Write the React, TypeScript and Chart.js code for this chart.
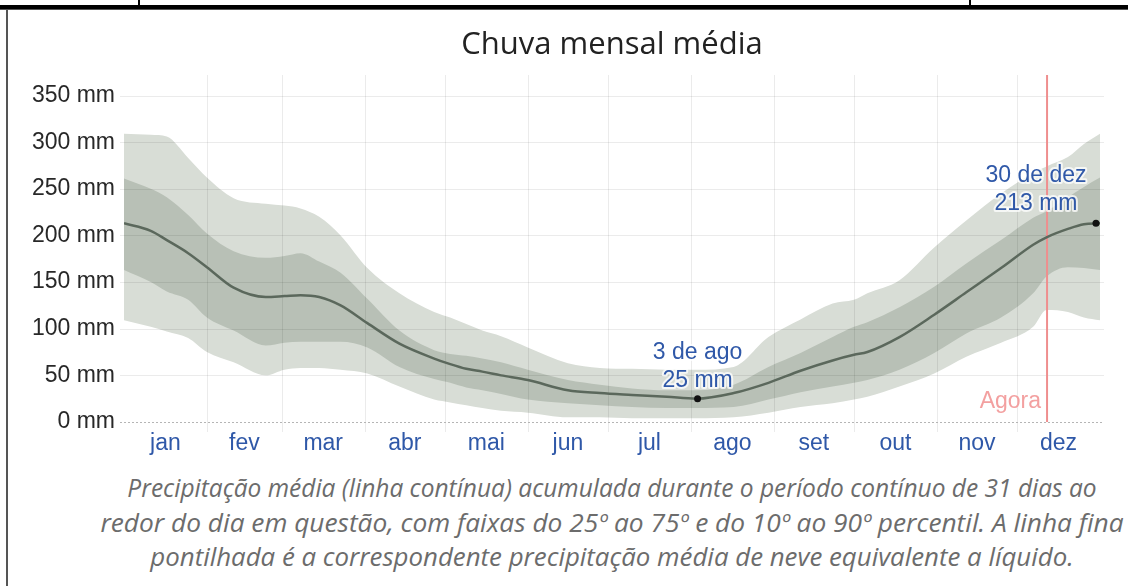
import React, { useEffect, useRef } from 'react';
import { Chart, registerables } from 'chart.js';

Chart.register(...registerables);

const chartTitle = 'Chuva mensal média';

// day of year (0 = 1 jan, 365 = 31 dez end)
const days = [0, 10, 16, 24, 31, 41, 53, 60, 66, 73, 81, 91, 103, 116, 122, 128, 134, 141, 151, 166, 178, 190, 203, 214, 228, 241, 253, 265, 273, 278, 290, 303, 315, 328, 340, 345, 353, 359, 365];
const meanMm = [213, 205, 195, 181, 166, 144, 134, 135, 136, 134, 125, 106, 84, 68, 62, 57, 54, 50, 45, 34, 31, 29, 27, 25, 31, 42, 55, 66, 72, 75, 91, 115, 139, 165, 190, 198, 207, 212, 213];
const p75Mm = [261, 250, 241, 222, 202, 183, 176, 178, 181, 172, 160, 132, 98, 77, 73, 71, 68, 64, 56, 45, 40, 36, 34, 34, 40, 59, 74, 91, 102, 107, 123, 145, 170, 195, 219, 226, 241, 252, 262];
const p25Mm = [163, 150, 140, 131, 112, 98, 82, 85, 86, 86, 86, 80, 59, 46, 42, 37, 34, 30, 24, 20, 18, 16, 15, 15, 16, 24, 32, 38, 42, 45, 56, 74, 95, 112, 138, 156, 166, 165, 163];
const p90Mm = [309, 308, 306, 283, 262, 240, 234, 232, 229, 220, 200, 165, 138, 118, 112, 105, 98, 92, 80, 63, 58, 57, 56, 56, 59, 91, 110, 127, 131, 138, 152, 187, 216, 245, 267, 274, 284, 298, 309];
const p10Mm = [109, 102, 97, 90, 75, 64, 50, 56, 58, 58, 56, 52, 38, 24, 21, 18, 15, 12, 10, 5, 5, 4, 4, 4, 5, 10, 16, 20, 24, 27, 38, 52, 70, 85, 102, 120, 118, 112, 109];

const monthLabels = ['jan', 'fev', 'mar', 'abr', 'mai', 'jun', 'jul', 'ago', 'set', 'out', 'nov', 'dez'];
const monthStarts = [0, 31, 59, 90, 120, 151, 181, 212, 243, 273, 304, 334, 365];
const yTicks = [0, 50, 100, 150, 200, 250, 300, 350];
const yMax = 372;

const highlightDays = [214.5, 363.5];
const highlightValues = [25, 213];
const highlightLabels = [['3 de ago', '25 mm'], ['30 de dez', '213 mm']];

const nowDay = 345.2;
const nowLabel = 'Agora';

const captionLines = [
  'Precipitação média (linha contínua) acumulada durante o período contínuo de 31 dias ao',
  'redor do dia em questão, com faixas do 25º ao 75º e do 10º ao 90º percentil. A linha fina',
  'pontilhada é a correspondente precipitação média de neve equivalente a líquido.',
];
const captionWidths = [969, 1023, 923];

const BLUE = '#2f58a8';
const FONT = '"Liberation Sans", Arial, sans-serif';

const pts = (vals: number[]) => days.map((d, i) => ({ x: d, y: vals[i] }));

const overlayPlugin = {
  id: 'overlay',
  afterDatasetDraw(chart: any, args: any) {
    if (args.index !== 1) return;
    const { ctx, chartArea, scales } = chart;
    const x = scales.x;
    const y = scales.y;
    const top = y.getPixelForValue(yMax);
    ctx.save();
    ctx.lineWidth = 1;
    ctx.strokeStyle = 'rgba(0,0,0,0.08)';
    for (const t of yTicks) {
      if (t === 0) continue;
      const py = Math.round(y.getPixelForValue(t)) + 0.5;
      ctx.beginPath();
      ctx.moveTo(chartArea.left - 4, py);
      ctx.lineTo(chartArea.right + 4, py);
      ctx.stroke();
    }
    for (const d of monthStarts.slice(1, -1)) {
      const px = Math.round(x.getPixelForValue(d)) + 0.5;
      ctx.beginPath();
      ctx.moveTo(px, top);
      ctx.lineTo(px, chartArea.bottom + 10);
      ctx.stroke();
    }
    const zy = Math.round(y.getPixelForValue(0)) + 0.5;
    ctx.setLineDash([2, 2]);
    ctx.strokeStyle = '#b5b5b5';
    ctx.beginPath();
    ctx.moveTo(chartArea.left - 4, zy);
    ctx.lineTo(chartArea.right + 4, zy);
    ctx.stroke();
    ctx.setLineDash([]);
    const nx = x.getPixelForValue(nowDay);
    ctx.strokeStyle = '#ef8e8e';
    ctx.lineWidth = 2;
    ctx.beginPath();
    ctx.moveTo(nx, top);
    ctx.lineTo(nx, chartArea.bottom);
    ctx.stroke();
    ctx.restore();
  },
  afterDatasetsDraw(chart: any) {
    const { ctx, chartArea, scales } = chart;
    const x = scales.x;
    const y = scales.y;
    ctx.save();
    const nx = x.getPixelForValue(nowDay);
    ctx.font = `23px ${FONT}`;
    ctx.fillStyle = '#f3a0a0';
    ctx.textAlign = 'right';
    ctx.textBaseline = 'alphabetic';
    ctx.fillText(nowLabel, nx - 6, chartArea.bottom - 14);
    highlightDays.forEach((d, i) => {
      const px = x.getPixelForValue(d);
      const py = y.getPixelForValue(highlightValues[i]);
      ctx.fillStyle = '#111';
      ctx.beginPath();
      ctx.arc(px, py, 3.5, 0, Math.PI * 2);
      ctx.fill();
      const cx = i === 0 ? px : px - 60;
      const [l1, l2] = highlightLabels[i];
      ctx.font = `23px ${FONT}`;
      ctx.textAlign = 'center';
      ctx.textBaseline = 'middle';
      ctx.lineWidth = 4;
      ctx.lineJoin = 'round';
      ctx.strokeStyle = 'rgba(255,255,255,0.75)';
      const y1 = i === 0 ? py - 46 : py - 48;
      const y2 = i === 0 ? py - 18 : py - 20;
      ctx.strokeText(l1, cx, y1);
      ctx.strokeText(l2, cx, y2);
      ctx.fillStyle = BLUE;
      ctx.fillText(l1, cx, y1);
      ctx.fillText(l2, cx, y2);
    });
    ctx.font = `31px "Open Sans", sans-serif`;
    ctx.fillStyle = '#222';
    ctx.textAlign = 'center';
    ctx.textBaseline = 'alphabetic';
    ctx.fillText(chartTitle, (chartArea.left + chartArea.right) / 2, 54);
    ctx.restore();
  },
};

export default function App() {
  const canvasRef = useRef<HTMLCanvasElement | null>(null);
  const lineRefs = useRef<(HTMLDivElement | null)[]>([]);

  useEffect(() => {
    document.body.style.margin = '0';
    const canvas = canvasRef.current;
    if (!canvas) return;
    const chart = new Chart(canvas, {
      type: 'line',
      data: {
        datasets: [
          {
            label: 'média',
            data: pts(meanMm),
            borderColor: '#5b685c',
            borderWidth: 2.5,
            pointRadius: 0,
            fill: false,
            cubicInterpolationMode: 'monotone',
            order: 0,
          },
          {
            label: 'p75',
            data: pts(p75Mm),
            borderWidth: 0,
            pointRadius: 0,
            backgroundColor: '#b8c0b6',
            fill: 2,
            cubicInterpolationMode: 'monotone',
            order: 1,
          },
          {
            label: 'p25',
            data: pts(p25Mm),
            borderWidth: 0,
            pointRadius: 0,
            fill: false,
            cubicInterpolationMode: 'monotone',
            order: 1,
          },
          {
            label: 'p90',
            data: pts(p90Mm),
            borderWidth: 0,
            pointRadius: 0,
            backgroundColor: '#d8ddd6',
            fill: 4,
            cubicInterpolationMode: 'monotone',
            order: 2,
          },
          {
            label: 'p10',
            data: pts(p10Mm),
            borderWidth: 0,
            pointRadius: 0,
            fill: false,
            cubicInterpolationMode: 'monotone',
            order: 2,
          },
        ],
      },
      options: {
        responsive: false,
        animation: false,
        events: [],
        layout: { padding: { top: 75, right: 28, left: 0, bottom: 0 } },
        plugins: { legend: { display: false }, tooltip: { enabled: false } },
        scales: {
          x: {
            type: 'linear',
            min: 0,
            max: 365,
            grid: { display: false, drawTicks: false },
            border: { display: false },
            afterBuildTicks: (s: any) => {
              s.ticks = monthLabels.map((_, i) => ({ value: (monthStarts[i] + monthStarts[i + 1]) / 2 }));
            },
            afterFit: (s: any) => {
              s.height = 48;
            },
            ticks: {
              autoSkip: false,
              maxRotation: 0,
              padding: 8,
              color: BLUE,
              font: { family: FONT, size: 23 },
              callback: (_v: any, i: number) => monthLabels[i],
            },
          },
          y: {
            type: 'linear',
            min: 0,
            max: yMax,
            grid: { display: false, drawTicks: false },
            border: { display: false },
            afterBuildTicks: (s: any) => {
              s.ticks = yTicks.map((v) => ({ value: v }));
            },
            afterFit: (s: any) => {
              s.width = 124;
            },
            ticks: {
              padding: 9,
              color: '#282828',
              font: { family: FONT, size: 23 },
              callback: (v: any) => `${v} mm`,
            },
          },
        },
      },
      plugins: [overlayPlugin],
    } as any);

    lineRefs.current.forEach((el, i) => {
      if (!el) return;
      el.style.transform = 'none';
      const w = el.offsetWidth;
      el.style.transform = `translateX(-50%) scaleX(${captionWidths[i] / w})`;
    });

    return () => chart.destroy();
  }, []);

  return (
    <div style={{ position: 'relative', width: 1128, height: 586, overflow: 'hidden', background: '#fff' }}>
      <canvas ref={canvasRef} width={1128} height={470} style={{ position: 'absolute', left: 0, top: 0 }} />
      <div style={{ position: 'absolute', left: 0, top: 5, width: 1128, height: 4, background: '#000' }} />
      <div style={{ position: 'absolute', left: 0, top: 9, width: 1128, height: 1, background: '#555' }} />
      <div style={{ position: 'absolute', left: 138, top: 0, width: 2, height: 6, background: '#000' }} />
      <div style={{ position: 'absolute', left: 969, top: 0, width: 2, height: 6, background: '#000' }} />
      <div style={{ position: 'absolute', left: 6, top: 10, width: 2, height: 576, background: '#555' }} />
      {captionLines.map((t, i) => (
        <div
          key={i}
          ref={(el) => {
            lineRefs.current[i] = el;
          }}
          style={{
            position: 'absolute',
            left: 612,
            top: 470 + i * 34.5,
            whiteSpace: 'nowrap',
            fontFamily: '"Open Sans", sans-serif',
            fontStyle: 'italic',
            fontSize: 25,
            lineHeight: '34px',
            color: '#6c6c6c',
            transformOrigin: 'center',
            transform: 'translateX(-50%)',
          }}
        >
          {t}
        </div>
      ))}
    </div>
  );
}
